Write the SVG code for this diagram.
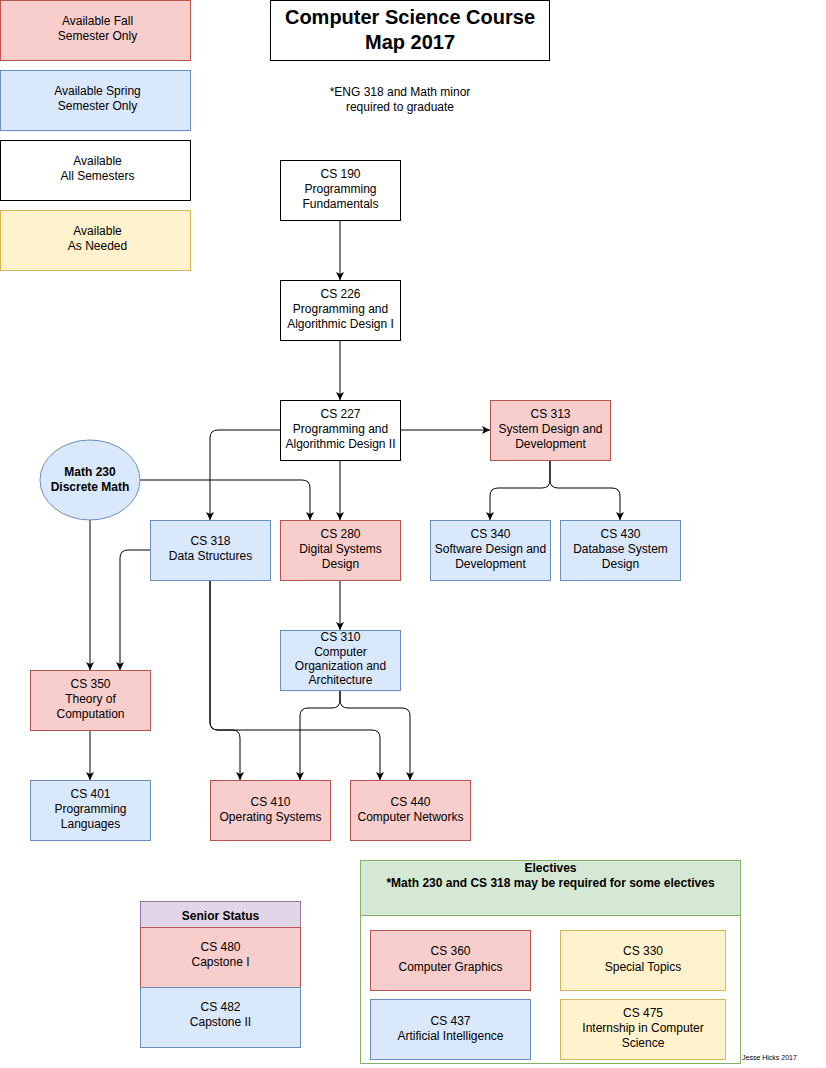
<svg xmlns="http://www.w3.org/2000/svg" width="826" height="1068" viewBox="0 0 826 1068">
<style>
text{font-family:"Liberation Sans",Arial,sans-serif;font-size:12px;fill:#000;text-anchor:middle}
.b{font-weight:bold}
.fall{fill:#f8cecc;stroke:#b85450}
.spring{fill:#dae8fc;stroke:#6c8ebf}
.all{fill:#ffffff;stroke:#000000}
.need{fill:#fff2cc;stroke:#d6b656}
.green{fill:#d5e8d4;stroke:#82b366}
.purple{fill:#e1d5e7;stroke:#9673a6}
.cont{fill:#ffffff;stroke:#82b366}
.edge{fill:none;stroke:#000;stroke-width:1;marker-end:url(#arr)}
</style>
<defs>
<marker id="arr" viewBox="0 0 10 10" refX="10" refY="5" markerWidth="8" markerHeight="8" markerUnits="userSpaceOnUse" orient="auto">
<path d="M0,0 L10,5 L0,10 L2.5,5 Z" fill="#000"/>
</marker>
</defs>
<rect width="826" height="1068" fill="#ffffff"/>

<g id="legend-fall"><rect class="fall" x="0.5" y="0.5" width="190" height="60"/><text x="97.5" y="25">Available Fall</text><text x="97.5" y="40">Semester Only</text></g>
<g id="legend-spring"><rect class="spring" x="0.5" y="70.5" width="190" height="60"/><text x="97.5" y="95">Available Spring</text><text x="97.5" y="110">Semester Only</text></g>
<g id="legend-all"><rect class="all" x="0.5" y="140.5" width="190" height="60"/><text x="97.5" y="165">Available</text><text x="97.5" y="180">All Semesters</text></g>
<g id="legend-need"><rect class="need" x="0.5" y="210.5" width="190" height="60"/><text x="97.5" y="235">Available</text><text x="97.5" y="250">As Needed</text></g>

<g id="title"><rect class="all" x="270.5" y="0.5" width="279" height="60"/><text class="b" x="410" y="24" style="font-size:20px">Computer Science Course</text><text class="b" x="410" y="49" style="font-size:20px">Map 2017</text></g>
<g id="note"><text x="400" y="95.5">*ENG 318 and Math minor</text><text x="400" y="110.5">required to graduate</text></g>

<g id="connectors">
<path class="edge" d="M340,220 V280"/>
<path class="edge" d="M340,340 V400"/>
<path class="edge" d="M340,460 V520"/>
<path class="edge" d="M400,430 H490"/>
<path class="edge" d="M280,430 H218 Q210,430 210,438 V520"/>
<path class="edge" d="M140,480 H302 Q310,480 310,488 V520"/>
<path class="edge" d="M340,580 V630"/>
<path class="edge" d="M90,520 V670"/>
<path class="edge" d="M150,550 H128 Q120,550 120,558 V670"/>
<path class="edge" d="M90,730 V780"/>
<path class="edge" d="M210,580 V722 Q210,730 218,730 H372 Q380,730 380,738 V780"/>
<path class="edge" d="M210,580 V722 Q210,730 218,730 H232 Q240,730 240,738 V780"/>
<path class="edge" d="M340,690 V700 Q340,708 332,708 H308 Q300,708 300,716 V780"/>
<path class="edge" d="M340,690 V700 Q340,708 348,708 H402 Q410,708 410,716 V780"/>
<path class="edge" d="M550,460 V480 Q550,488 542,488 H498 Q490,488 490,496 V520"/>
<path class="edge" d="M550,460 V480 Q550,488 558,488 H612 Q620,488 620,496 V520"/>
</g>

<g id="cs190"><rect class="all" x="280.5" y="160.5" width="120" height="60"/><text x="340.5" y="178">CS 190</text><text x="340.5" y="193">Programming</text><text x="340.5" y="207.5">Fundamentals</text></g>
<g id="cs226"><rect class="all" x="280.5" y="280.5" width="120" height="60"/><text x="340.5" y="298">CS 226</text><text x="340.5" y="313">Programming and</text><text x="340.5" y="327.5">Algorithmic Design I</text></g>
<g id="cs227"><rect class="all" x="280.5" y="400.5" width="120" height="60"/><text x="340.5" y="418">CS 227</text><text x="340.5" y="433">Programming and</text><text x="340.5" y="447.5">Algorithmic Design II</text></g>
<g id="cs313"><rect class="fall" x="490.5" y="400.5" width="120" height="60"/><text x="550.5" y="418">CS 313</text><text x="550.5" y="433">System Design and</text><text x="550.5" y="447.5">Development</text></g>
<g id="math230"><ellipse class="spring" cx="90" cy="480" rx="50" ry="40"/><text class="b" x="90" y="476">Math 230</text><text class="b" x="90" y="491">Discrete Math</text></g>
<g id="cs318"><rect class="spring" x="150.5" y="520.5" width="120" height="60"/><text x="210.5" y="545">CS 318</text><text x="210.5" y="560">Data Structures</text></g>
<g id="cs280"><rect class="fall" x="280.5" y="520.5" width="120" height="60"/><text x="340.5" y="538">CS 280</text><text x="340.5" y="553">Digital Systems</text><text x="340.5" y="567.5">Design</text></g>
<g id="cs340"><rect class="spring" x="430.5" y="520.5" width="120" height="60"/><text x="490.5" y="538">CS 340</text><text x="490.5" y="553">Software Design and</text><text x="490.5" y="567.5">Development</text></g>
<g id="cs430"><rect class="spring" x="560.5" y="520.5" width="120" height="60"/><text x="620.5" y="538">CS 430</text><text x="620.5" y="553">Database System</text><text x="620.5" y="567.5">Design</text></g>
<g id="cs310"><rect class="spring" x="280.5" y="630.5" width="120" height="60"/><text x="340.5" y="641">CS 310</text><text x="340.5" y="656">Computer</text><text x="340.5" y="670">Organization and</text><text x="340.5" y="684">Architecture</text></g>
<g id="cs350"><rect class="fall" x="30.5" y="670.5" width="120" height="60"/><text x="90.5" y="688">CS 350</text><text x="90.5" y="703">Theory of</text><text x="90.5" y="717.5">Computation</text></g>
<g id="cs401"><rect class="spring" x="30.5" y="780.5" width="120" height="60"/><text x="90.5" y="798">CS 401</text><text x="90.5" y="813">Programming</text><text x="90.5" y="827.5">Languages</text></g>
<g id="cs410"><rect class="fall" x="210.5" y="780.5" width="120" height="60"/><text x="270.5" y="805.5">CS 410</text><text x="270.5" y="820.5">Operating Systems</text></g>
<g id="cs440"><rect class="fall" x="350.5" y="780.5" width="120" height="60"/><text x="410.5" y="805.5">CS 440</text><text x="410.5" y="820.5">Computer Networks</text></g>

<g id="senior">
<rect class="purple" x="140.5" y="901.5" width="160" height="26"/>
<text class="b" x="220.5" y="919.5">Senior Status</text>
<rect class="fall" x="140.5" y="927.5" width="160" height="60"/>
<text x="220.5" y="951">CS 480</text><text x="220.5" y="965.5">Capstone I</text>
<rect class="spring" x="140.5" y="987.5" width="160" height="60"/>
<text x="220.5" y="1011">CS 482</text><text x="220.5" y="1025.5">Capstone II</text>
</g>

<g id="electives">
<rect class="cont" x="360.5" y="860.5" width="380" height="203"/>
<rect class="green" x="360.5" y="860.5" width="380" height="55"/>
<text class="b" x="550.5" y="871.5">Electives</text>
<text class="b" x="550.5" y="886.5">*Math 230 and CS 318 may be required for some electives</text>
</g>
<g id="cs360"><rect class="fall" x="370.5" y="930.5" width="160" height="60"/><text x="450.5" y="955">CS 360</text><text x="450.5" y="970.5">Computer Graphics</text></g>
<g id="cs330"><rect class="need" x="560.5" y="930.5" width="165" height="60"/><text x="643" y="955">CS 330</text><text x="643" y="970.5">Special Topics</text></g>
<g id="cs437"><rect class="spring" x="370.5" y="999.5" width="160" height="60"/><text x="450.5" y="1024.5">CS 437</text><text x="450.5" y="1039.5">Artificial Intelligence</text></g>
<g id="cs475"><rect class="need" x="560.5" y="999.5" width="165" height="60"/><text x="643" y="1017">CS 475</text><text x="643" y="1032">Internship in Computer</text><text x="643" y="1046.5">Science</text></g>

<text x="742" y="1059.5" style="font-size:7px;text-anchor:start">Jesse Hicks 2017</text>
</svg>
